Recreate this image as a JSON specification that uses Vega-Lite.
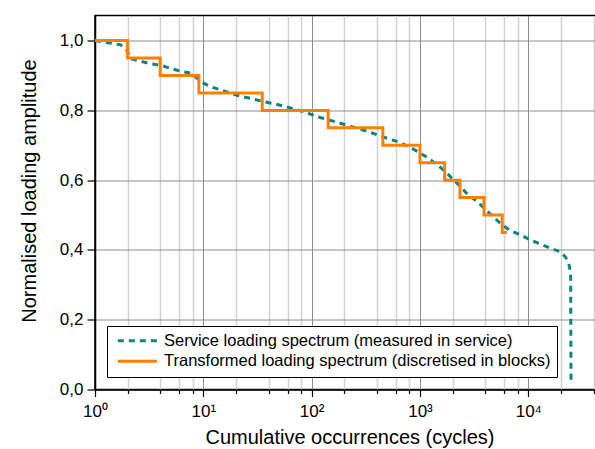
{
  "$schema": "https://vega.github.io/schema/vega-lite/v6.json",
  "autosize": "none",
  "padding": {"left": 95, "top": 15.5, "right": 0, "bottom": 59.5},
  "width": 509,
  "height": 374,
  "background": "white",
  "config": {
    "view": {"stroke": "black", "strokeWidth": 1.5},
    "font": "Liberation Sans",
    "axis": {
      "domainColor": "black", "domainWidth": 1.5,
      "tickColor": "black", "tickWidth": 1.2,
      "labelFont": "Liberation Sans", "labelFontSize": 17, "labelColor": "black",
      "titleFont": "Liberation Sans", "titleFontSize": 20, "titleFontWeight": "normal", "titleColor": "black",
      "labelOverlap": false, "labelBound": false, "labelFlush": false
    }
  },
  "datasets": {
    "service": [
      {"x": 1, "y": 1.0},
      {"x": 1.72, "y": 0.988},
      {"x": 1.95, "y": 0.975},
      {"x": 2.13, "y": 0.948},
      {"x": 3.14, "y": 0.935},
      {"x": 4.17, "y": 0.928},
      {"x": 5.15, "y": 0.919},
      {"x": 6.37, "y": 0.911},
      {"x": 7.87, "y": 0.906},
      {"x": 9.4, "y": 0.883},
      {"x": 11.6, "y": 0.868},
      {"x": 14.4, "y": 0.859},
      {"x": 18.5, "y": 0.847},
      {"x": 22.8, "y": 0.840},
      {"x": 28.3, "y": 0.833},
      {"x": 36.2, "y": 0.825},
      {"x": 44.9, "y": 0.819},
      {"x": 57.3, "y": 0.811},
      {"x": 68.5, "y": 0.804},
      {"x": 87.6, "y": 0.795},
      {"x": 112, "y": 0.782},
      {"x": 171, "y": 0.766},
      {"x": 220, "y": 0.756},
      {"x": 337, "y": 0.739},
      {"x": 418, "y": 0.728},
      {"x": 498, "y": 0.720},
      {"x": 640, "y": 0.709},
      {"x": 790, "y": 0.696},
      {"x": 978, "y": 0.680},
      {"x": 1170, "y": 0.665},
      {"x": 1440, "y": 0.644},
      {"x": 1730, "y": 0.624},
      {"x": 1990, "y": 0.604},
      {"x": 2290, "y": 0.586},
      {"x": 2740, "y": 0.560},
      {"x": 3390, "y": 0.538},
      {"x": 4400, "y": 0.505},
      {"x": 5530, "y": 0.476},
      {"x": 6830, "y": 0.455},
      {"x": 8500, "y": 0.443},
      {"x": 10500, "y": 0.428},
      {"x": 12900, "y": 0.417},
      {"x": 15900, "y": 0.405},
      {"x": 19700, "y": 0.395},
      {"x": 22000, "y": 0.380},
      {"x": 23600, "y": 0.362},
      {"x": 24600, "y": 0.334},
      {"x": 24800, "y": 0.017}
    ],
    "blocks": [
      {"x": 1, "y": 1.0},
      {"x": 2, "y": 0.95},
      {"x": 4, "y": 0.90},
      {"x": 9.1, "y": 0.85},
      {"x": 35, "y": 0.80},
      {"x": 142, "y": 0.75},
      {"x": 454, "y": 0.70},
      {"x": 1000, "y": 0.65},
      {"x": 1690, "y": 0.60},
      {"x": 2340, "y": 0.55},
      {"x": 3900, "y": 0.50},
      {"x": 5750, "y": 0.45},
      {"x": 6350, "y": 0.45}
    ]
  },
  "layer": [
    {
      "data": {"name": "service"},
      "transform": [{"calculate": "'Service loading spectrum (measured in service)'", "as": "series"}],
      "mark": {"type": "line", "strokeWidth": 3},
      "encoding": {
        "x": {
          "field": "x", "type": "quantitative",
          "scale": {"type": "log", "domain": [1, 50000], "nice": false},
          "axis": {
            "title": "Cumulative occurrences (cycles)",
            "values": [1, 2, 4, 6, 8, 10, 20, 40, 60, 80, 100, 200, 400, 600, 800, 1000, 2000, 4000, 6000, 8000, 10000, 20000, 40000],
            "labelExpr": "datum.value==1?'10⁰':datum.value==10?'10¹':datum.value==100?'10²':datum.value==1000?'10³':datum.value==10000?'10⁴':''",
            "tickSize": {"condition": {"test": "datum.value==1||datum.value==10||datum.value==100||datum.value==1000||datum.value==10000", "value": 7}, "value": 4},
            "gridColor": {"condition": {"test": "datum.value==1||datum.value==10||datum.value==100||datum.value==1000||datum.value==10000", "value": "#8c8c8c"}, "value": "#d2d2d2"},
            "gridWidth": {"condition": {"test": "datum.value==1||datum.value==10||datum.value==100||datum.value==1000||datum.value==10000", "value": 1}, "value": 1.5},
            "labelPadding": 7,
            "titlePadding": 8
          }
        },
        "y": {
          "field": "y", "type": "quantitative",
          "scale": {"domain": [0, 1.072], "nice": false, "zero": false},
          "axis": {
            "title": "Normalised loading amplitude",
            "values": [0, 0.2, 0.4, 0.6, 0.8, 1.0],
            "labelExpr": "replace(format(datum.value, '.1f'), '.', ',')",
            "tickSize": 8,
            "gridColor": "#8c8c8c",
            "gridWidth": 1,
            "labelPadding": 4,
            "titlePadding": 20,
            "titleY": 175
          }
        },
        "color": {
          "field": "series", "type": "nominal",
          "scale": {"domain": ["Service loading spectrum (measured in service)", "Transformed loading spectrum (discretised in blocks)"], "range": ["#0b8581", "#ff8000"]},
          "legend": {
            "orient": "none", "legendX": 12, "legendY": 310.5, "title": null,
            "symbolType": "M-1,0H9", "symbolSize": 61, "symbolStrokeWidth": 3,
            "labelFontSize": 16.5, "labelFont": "Liberation Sans", "labelColor": "black", "labelLimit": 0,
            "strokeColor": "black", "fillColor": "white", "padding": 6.5, "rowPadding": 3.5, "labelOffset": 34
          }
        },
        "strokeDash": {
          "field": "series", "type": "nominal",
          "scale": {"domain": ["Service loading spectrum (measured in service)", "Transformed loading spectrum (discretised in blocks)"], "range": [[6, 5], [1, 0]]},
          "legend": null
        }
      }
    },
    {
      "data": {"name": "blocks"},
      "transform": [{"calculate": "'Transformed loading spectrum (discretised in blocks)'", "as": "series"}],
      "mark": {"type": "line", "strokeWidth": 3, "interpolate": "step-after"},
      "encoding": {
        "x": {"field": "x", "type": "quantitative"},
        "y": {"field": "y", "type": "quantitative"},
        "color": {"field": "series", "type": "nominal"},
        "strokeDash": {"field": "series", "type": "nominal"}
      }
    }
  ]
}
